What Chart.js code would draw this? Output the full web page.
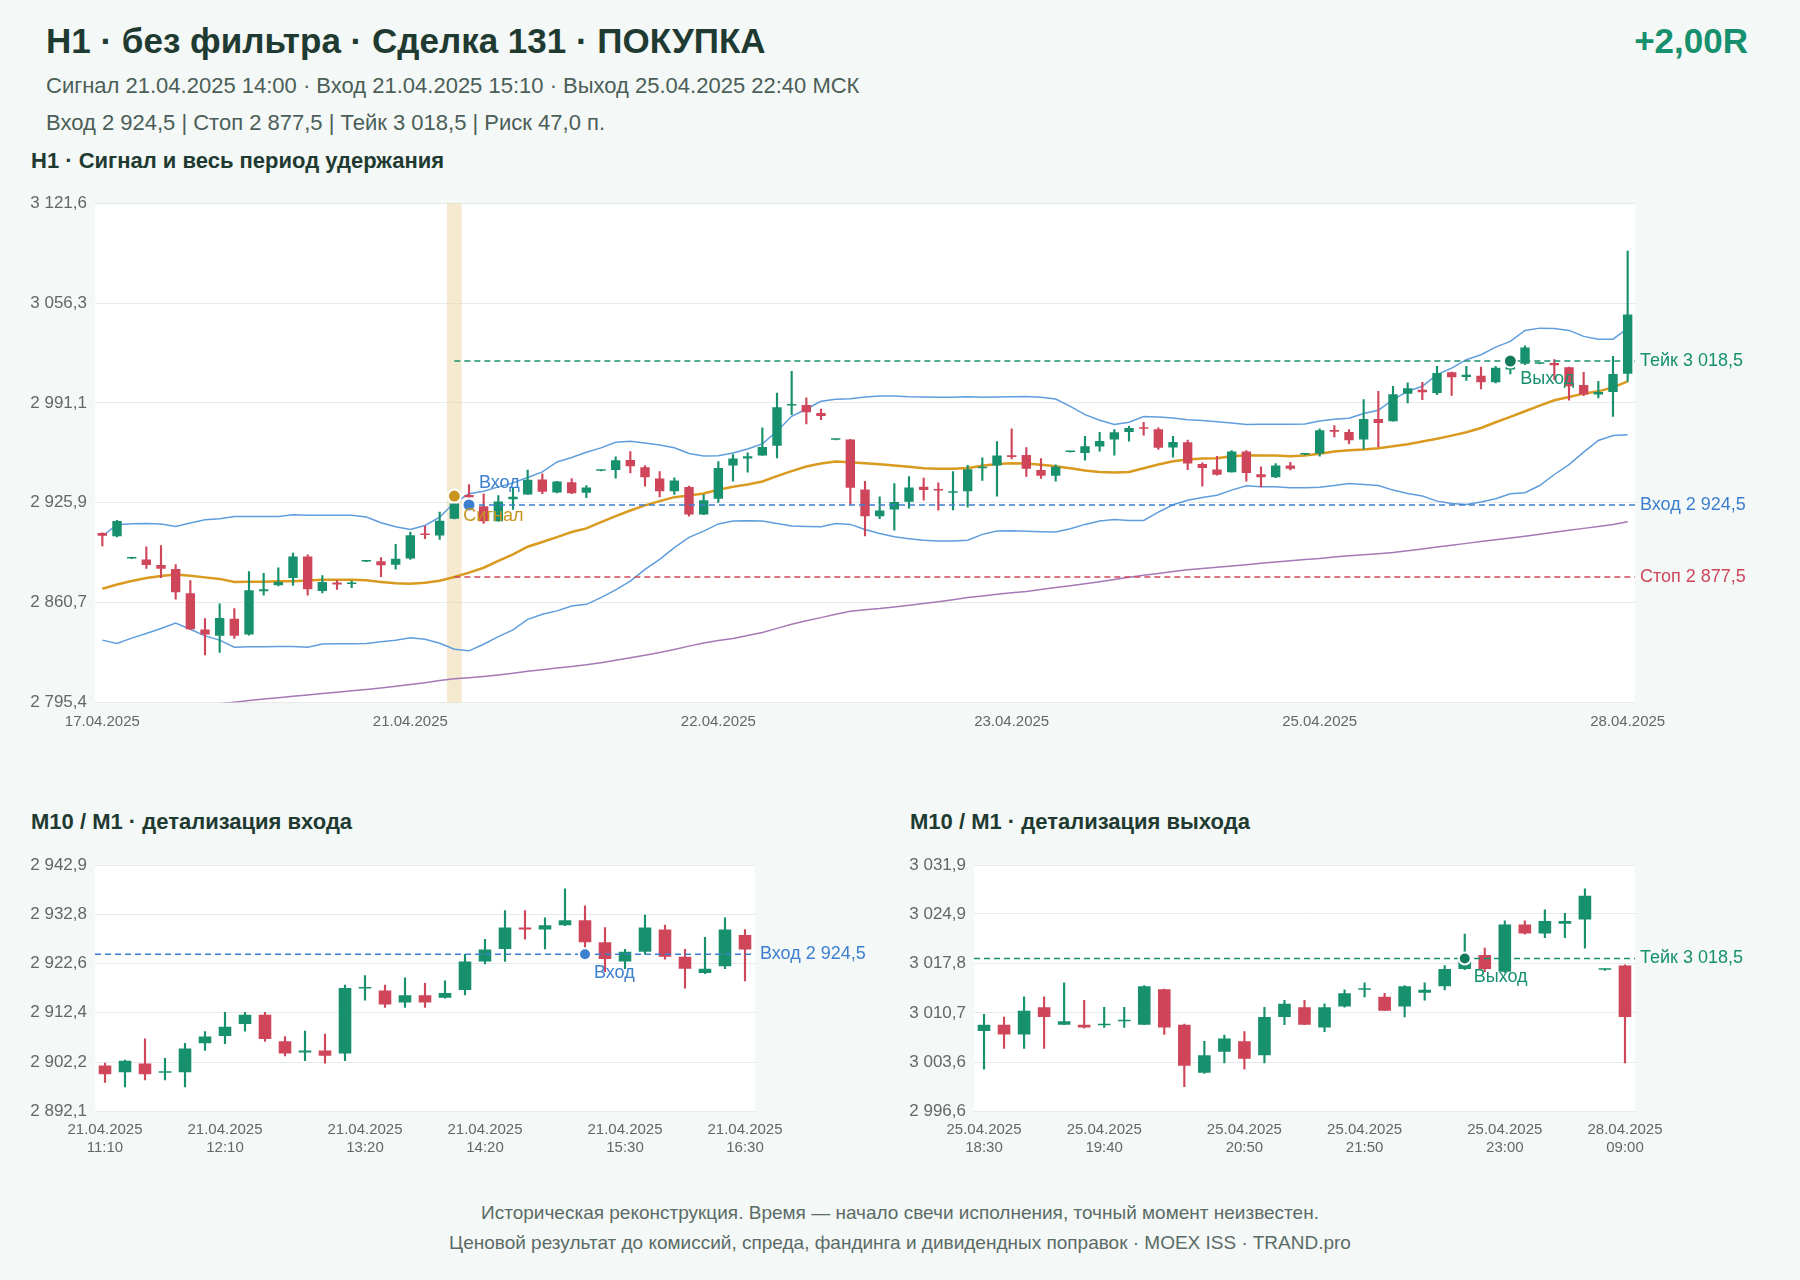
<!DOCTYPE html>
<html><head><meta charset="utf-8">
<script src="https://cdn.jsdelivr.net/npm/chart.js@4.4.1/dist/chart.umd.min.js"></script>
<style>
html,body{margin:0;padding:0;background:#f4f8f7;}
body{width:1800px;height:1280px;position:relative;overflow:hidden;font-family:"Liberation Sans",Arial,sans-serif;}
.t{position:absolute;white-space:nowrap;line-height:1;}
#title{left:46px;top:23px;font-size:35px;font-weight:bold;color:#1f3b31;}
#result{right:52px;top:23px;font-size:35px;font-weight:bold;color:#17906e;}
.sub{left:46px;font-size:22px;color:#4b5e57;}
.sec{font-size:22px;font-weight:bold;color:#1f3b31;}
.foot{left:0;width:1800px;text-align:center;font-size:19px;color:#5b6b66;}
canvas{position:absolute;}
</style></head>
<body>
<div class="t" id="title">H1 · без фильтра · Сделка 131 · ПОКУПКА</div>
<div class="t" id="result">+2,00R</div>
<div class="t sub" style="top:75px">Сигнал 21.04.2025 14:00 · Вход 21.04.2025 15:10 · Выход 25.04.2025 22:40 МСК</div>
<div class="t sub" style="top:112px">Вход 2 924,5 | Стоп 2 877,5 | Тейк 3 018,5 | Риск 47,0 п.</div>
<div class="t sec" style="left:31px;top:150px">H1 · Сигнал и весь период удержания</div>
<div class="t sec" style="left:31px;top:811px">M10 / M1 · детализация входа</div>
<div class="t sec" style="left:910px;top:811px">M10 / M1 · детализация выхода</div>
<div class="t foot" style="top:1203px">Историческая реконструкция. Время — начало свечи исполнения, точный момент неизвестен.</div>
<div class="t foot" style="top:1233px">Ценовой результат до комиссий, спреда, фандинга и дивидендных поправок · MOEX ISS · TRAND.pro</div>

<canvas id="c1" width="1740" height="550" style="left:20px;top:185px"></canvas>
<canvas id="c2" width="860" height="311" style="left:20px;top:847px"></canvas>
<canvas id="c3" width="861" height="311" style="left:899px;top:847px"></canvas>

<script>
// ---------- H1 data ----------
const h1Open  = [2906.1,2904.0,2889.5,2888.8,2885.3,2882.7,2866.8,2843.1,2839.0,2850.1,2839.9,2868.1,2872.0,2876.8,2890.9,2868.3,2873.8,2872.8,2887.6,2887.7,2885.5,2889.5,2905.9,2904.6,2915.5,2931.0,2923.7,2913.9,2928.3,2931.3,2941.1,2932.6,2939.4,2932.4,2946.9,2947.4,2953.9,2949.1,2941.8,2933.5,2936.3,2918.3,2928.6,2950.3,2954.8,2956.8,2963.1,2989.4,2989.8,2984.6,2967.1,2967.2,2934.6,2917.2,2921.6,2926.6,2936.4,2934.7,2932.4,2933.5,2948.5,2950.3,2957.0,2957.2,2947.4,2943.5,2959.1,2958.5,2962.6,2967.2,2972.2,2975.2,2973.9,2962.0,2965.5,2951.3,2947.6,2945.9,2959.4,2944.6,2942.6,2950.2,2957.5,2958.1,2973.4,2972.2,2967.2,2980.7,2979.2,2997.2,2999.8,2997.6,3011.1,3008.1,3008.9,3004.6,3013.0,3016.8,3016.7,3017.2,3014.4,3002.9,2996.6,2998.3,3010.2];
const h1High  = [2906.3,2914.4,2889.8,2897.2,2897.9,2885.5,2875.1,2850.3,2859.9,2856.8,2880.9,2879.8,2883.5,2893.1,2892.0,2878.3,2875.3,2874.8,2887.9,2890.1,2898.8,2906.8,2910.7,2919.8,2926.8,2937.8,2931.8,2930.7,2935.7,2947.2,2944.8,2940.0,2941.8,2937.2,2947.2,2955.9,2959.4,2950.2,2946.3,2942.2,2936.8,2931.3,2952.9,2957.4,2958.5,2974.8,2997.6,3011.8,2994.4,2987.2,2967.3,2967.3,2940.0,2929.8,2938.5,2943.1,2942.0,2939.0,2946.3,2950.3,2955.3,2965.9,2974.2,2962.0,2954.8,2950.7,2959.3,2969.4,2972.0,2973.7,2975.9,2978.5,2974.8,2969.4,2966.8,2952.0,2956.3,2960.0,2960.0,2949.4,2951.6,2952.4,2957.7,2974.2,2976.4,2973.7,2993.3,2998.7,3002.0,3004.2,3004.6,3015.0,3011.3,3015.0,3014.6,3015.0,3022.0,3028.5,3016.9,3019.4,3014.6,3011.1,3005.2,3021.5,3090.4];
const h1Low   = [2897.7,2903.7,2889.4,2883.1,2877.0,2862.9,2843.0,2826.6,2828.1,2837.3,2839.5,2865.5,2871.6,2872.0,2865.5,2867.0,2869.4,2870.5,2887.5,2877.7,2882.5,2889.0,2902.4,2902.0,2915.3,2923.5,2912.4,2913.9,2921.6,2931.3,2931.8,2932.4,2931.8,2929.2,2946.8,2942.0,2945.5,2936.8,2929.8,2931.3,2917.2,2918.1,2926.1,2940.0,2945.9,2956.8,2955.3,2983.5,2977.4,2980.2,2967.0,2924.8,2904.2,2915.5,2908.1,2922.4,2927.7,2921.1,2921.3,2923.1,2940.5,2930.3,2954.6,2943.1,2941.8,2940.0,2959.0,2953.7,2959.6,2957.0,2966.1,2970.0,2960.7,2955.7,2947.6,2936.8,2944.0,2945.9,2940.0,2936.3,2942.4,2947.4,2957.4,2956.3,2969.0,2964.6,2961.1,2962.4,2979.2,2991.1,2993.3,2996.6,2996.1,3005.9,3000.3,3004.2,3010.1,3016.1,3016.6,3006.3,2992.9,2995.9,2994.4,2982.4,3005.2];
const h1Close = [2904.4,2914.0,2889.7,2885.3,2882.9,2867.5,2843.3,2839.9,2850.7,2839.0,2868.8,2869.4,2874.2,2890.9,2869.4,2874.2,2872.5,2873.0,2887.8,2885.1,2889.4,2904.7,2904.8,2914.2,2925.5,2929.5,2913.9,2926.8,2929.8,2940.9,2933.1,2939.8,2932.2,2935.9,2947.1,2953.7,2949.8,2942.6,2933.5,2940.5,2918.3,2927.6,2948.7,2954.8,2956.3,2962.4,2988.3,2989.8,2985.0,2982.6,2967.2,2935.7,2917.2,2920.9,2926.4,2935.9,2934.2,2933.9,2932.9,2947.9,2949.4,2956.8,2955.9,2948.2,2943.5,2949.4,2959.2,2962.9,2966.3,2972.0,2974.8,2974.2,2961.8,2965.7,2951.6,2948.7,2944.2,2959.4,2945.3,2942.6,2950.2,2948.1,2957.6,2973.3,2972.3,2966.8,2980.7,2978.1,2996.8,3000.7,2998.1,3010.7,3007.9,3009.6,3004.6,3014.2,3017.0,3027.4,3016.8,3015.7,3002.0,2996.6,2998.3,3010.0,3048.9];
const h1BandUpper = [2904.2,2911.6,2912.2,2912.4,2912.0,2910.5,2912.7,2914.8,2915.5,2917.0,2917.0,2917.0,2917.0,2918.1,2917.7,2917.7,2917.7,2917.7,2916.6,2912.9,2910.3,2908.5,2911.1,2916.6,2925.9,2931.8,2933.5,2936.3,2938.9,2942.4,2946.1,2952.6,2955.5,2958.9,2961.8,2965.5,2966.1,2965.0,2963.7,2961.8,2958.1,2956.5,2956.6,2958.5,2961.1,2964.4,2972.6,2982.4,2987.2,2992.2,2993.5,2993.9,2995.0,2995.7,2995.7,2995.2,2995.0,2994.8,2994.8,2995.2,2994.8,2995.0,2995.2,2995.3,2994.8,2993.7,2988.9,2983.5,2979.8,2977.0,2978.5,2982.2,2982.0,2981.3,2980.2,2979.6,2978.9,2978.1,2977.0,2977.2,2977.2,2977.2,2977.4,2979.3,2980.5,2981.1,2984.2,2986.3,2993.3,2998.7,3002.0,3009.6,3013.9,3019.4,3022.6,3027.6,3031.3,3038.5,3040.0,3039.8,3038.5,3034.6,3032.8,3032.8,3039.8];
const h1BandMid = [2869.8,2872.5,2874.8,2876.8,2878.1,2879.0,2878.3,2877.2,2876.2,2874.2,2874.4,2874.4,2874.6,2874.6,2875.1,2875.7,2875.7,2875.7,2875.3,2874.2,2873.3,2873.1,2873.7,2875.0,2877.4,2880.3,2883.5,2887.9,2892.2,2897.2,2900.3,2903.5,2906.8,2909.2,2913.3,2917.2,2920.9,2924.2,2927.0,2929.6,2930.7,2932.0,2934.4,2936.4,2937.9,2939.8,2943.3,2946.6,2949.6,2951.6,2952.9,2952.4,2951.8,2951.1,2950.3,2949.4,2948.5,2948.1,2948.1,2948.7,2950.1,2951.3,2951.8,2951.5,2950.7,2949.8,2948.5,2947.0,2946.1,2945.7,2946.1,2948.5,2950.9,2953.1,2954.2,2954.8,2955.0,2956.3,2957.0,2956.8,2956.8,2956.3,2956.8,2958.0,2959.4,2960.3,2960.7,2961.6,2962.9,2964.2,2965.9,2967.7,2969.8,2972.0,2974.8,2978.5,2982.0,2985.7,2989.4,2992.9,2995.0,2997.2,2998.7,3001.3,3005.2];
const h1BandLower = [2836.2,2834.0,2837.5,2840.5,2843.8,2847.3,2843.3,2839.0,2836.2,2831.6,2831.8,2831.8,2832.0,2832.0,2831.6,2833.6,2833.8,2833.8,2834.0,2835.1,2836.2,2837.7,2836.8,2834.2,2830.3,2829.2,2833.5,2838.5,2842.9,2849.8,2853.1,2855.3,2858.5,2859.6,2864.0,2869.0,2874.8,2882.4,2889.0,2896.6,2903.3,2907.4,2912.1,2914.0,2914.2,2914.0,2912.4,2910.7,2910.5,2910.3,2912.4,2911.8,2908.5,2905.9,2903.8,2902.5,2901.4,2900.9,2900.9,2901.4,2905.3,2907.5,2907.7,2907.4,2907.0,2906.8,2909.0,2911.8,2914.0,2915.0,2914.4,2914.4,2919.8,2924.6,2927.6,2929.4,2930.9,2934.2,2937.0,2936.4,2936.4,2935.7,2935.7,2936.0,2937.2,2938.5,2937.9,2937.2,2934.2,2932.0,2930.3,2927.0,2925.5,2924.8,2926.4,2928.5,2931.8,2932.5,2937.2,2944.4,2950.9,2959.0,2966.6,2969.8,2970.3];
const h1SlowMA = [2786.5,2787.5,2788.5,2789.5,2790.6,2791.6,2792.6,2793.6,2794.7,2795.7,2796.7,2797.7,2798.6,2799.5,2800.4,2801.3,2802.2,2803.1,2804.0,2805.0,2806.1,2807.2,2808.4,2809.8,2811.0,2811.7,2812.5,2813.5,2814.6,2815.8,2816.9,2818.0,2819.0,2820.2,2821.5,2823.0,2824.7,2826.4,2828.1,2830.1,2832.3,2834.3,2836.0,2837.3,2839.2,2841.2,2843.9,2846.6,2848.8,2850.9,2853.1,2855.0,2856.1,2856.8,2857.9,2859.0,2860.1,2861.2,2862.6,2864.0,2865.1,2866.2,2867.2,2868.0,2869.3,2870.6,2871.8,2873.0,2874.4,2875.8,2877.3,2878.6,2879.8,2881.0,2882.2,2883.0,2883.8,2884.7,2885.5,2886.4,2887.2,2888.0,2888.8,2889.5,2890.5,2891.3,2892.0,2892.7,2893.4,2894.6,2895.8,2897.0,2898.2,2899.4,2900.6,2901.8,2902.9,2904.1,2905.3,2906.6,2907.9,2909.2,2910.5,2911.8,2913.5];
const h1TickIdx = [0, 21, 42, 62, 83, 104];
const h1TickLabels = ['17.04.2025','21.04.2025','22.04.2025','23.04.2025','25.04.2025','28.04.2025'];
const h1YTicks = [3121.6, 3056.3, 2991.1, 2925.9, 2860.7, 2795.4];

// trade levels
const entryPrice = 2924.5, stopPrice = 2877.5, takePrice = 3018.5;
const h1SignalIdx = 24, h1SignalPrice = 2930.3, h1EntryIdx = 25, h1ExitIdx = 96;

// ---------- M10 entry detail ----------
const entryDate = '21.04.2025';
const entryTimes = ['11:10','11:20','11:30','11:40','11:50','12:00','12:10','12:20','12:30','12:40','12:50','13:00','13:10','13:20','13:30','13:40','13:50','14:00','14:10','14:20','14:30','14:40','14:50','15:00','15:10','15:20','15:30','15:40','15:50','16:00','16:10','16:20','16:30'];
const enOpen  = [2901.5,2900.1,2901.9,2900.0,2900.1,2906.1,2907.6,2910.1,2912.0,2906.5,2904.2,2904.6,2904.0,2917.4,2917.0,2914.5,2916.0,2915.5,2917.1,2923.0,2925.6,2930.0,2929.6,2930.5,2931.5,2927.0,2923.0,2925.0,2929.6,2924.0,2920.6,2922.0,2928.5];
const enHigh  = [2902.0,2902.6,2907.0,2903.0,2906.1,2908.5,2912.5,2912.5,2912.5,2907.5,2908.6,2908.0,2918.1,2920.1,2918.1,2919.6,2918.5,2919.0,2924.5,2927.6,2933.5,2933.5,2932.0,2938.0,2934.5,2930.0,2925.5,2932.6,2930.5,2925.5,2928.0,2932.0,2929.6];
const enLow   = [2898.0,2897.1,2898.5,2898.5,2897.1,2904.6,2906.0,2908.6,2906.5,2903.5,2902.5,2902.0,2902.5,2915.0,2913.5,2913.5,2913.5,2915.4,2916.1,2922.5,2923.0,2927.6,2925.6,2930.4,2924.3,2920.9,2921.5,2924.5,2923.5,2917.5,2920.5,2921.5,2919.0];
const enClose = [2899.7,2902.5,2899.7,2900.1,2905.0,2907.5,2909.5,2912.0,2907.0,2904.0,2904.6,2903.5,2917.5,2917.5,2914.1,2916.0,2914.5,2916.5,2923.0,2925.5,2930.0,2929.6,2930.5,2931.5,2927.0,2923.5,2925.0,2930.0,2924.0,2921.5,2921.5,2929.6,2925.5];
const enTickIdx = [0, 6, 13, 19, 26, 32];
const enYTicks = [2942.9, 2932.8, 2922.6, 2912.4, 2902.2, 2892.1];
const enEntryIdx = 24;

// ---------- M10 exit detail ----------
const exitDates = ['25.04.2025','25.04.2025','25.04.2025','25.04.2025','25.04.2025','25.04.2025','25.04.2025','25.04.2025','25.04.2025','25.04.2025','25.04.2025','25.04.2025','25.04.2025','25.04.2025','25.04.2025','25.04.2025','25.04.2025','25.04.2025','25.04.2025','25.04.2025','25.04.2025','25.04.2025','25.04.2025','25.04.2025','25.04.2025','25.04.2025','25.04.2025','25.04.2025','25.04.2025','25.04.2025','25.04.2025','28.04.2025','28.04.2025'];
const exitTimes = ['18:30','18:40','19:00','19:10','19:20','19:30','19:40','19:50','20:00','20:10','20:20','20:30','20:40','20:50','21:00','21:10','21:20','21:30','21:40','21:50','22:00','22:10','22:20','22:30','22:40','22:50','23:00','23:10','23:20','23:30','23:40','08:50','09:00'];
const exOpen  = [3008.1,3009.0,3007.6,3011.5,3009.0,3009.0,3008.9,3009.5,3009.0,3014.1,3009.0,3002.1,3005.1,3006.6,3004.6,3010.1,3011.5,3008.6,3011.6,3014.0,3013.0,3011.6,3013.6,3014.5,3017.0,3019.0,3016.6,3023.4,3022.1,3023.5,3024.1,3016.9,3017.5];
const exHigh  = [3010.5,3010.1,3013.0,3013.0,3015.0,3012.5,3011.5,3011.5,3014.6,3014.1,3009.1,3006.6,3007.5,3008.0,3011.5,3012.5,3012.5,3012.0,3014.0,3015.0,3013.5,3014.6,3015.0,3017.5,3022.0,3020.0,3023.9,3023.9,3025.5,3025.0,3028.5,3017.0,3017.6];
const exLow   = [3002.6,3005.6,3005.6,3005.6,3009.0,3008.5,3008.6,3008.6,3009.0,3007.6,3000.1,3002.0,3003.5,3002.6,3003.5,3009.0,3009.0,3008.0,3011.5,3013.0,3011.0,3010.1,3012.5,3014.0,3016.9,3016.6,3016.5,3022.0,3021.5,3021.5,3020.0,3016.8,3003.5];
const exClose = [3009.0,3007.6,3011.0,3010.1,3009.5,3008.6,3009.0,3009.6,3014.5,3008.6,3003.1,3004.6,3007.0,3004.1,3010.1,3012.0,3009.0,3011.5,3013.5,3014.1,3011.0,3014.5,3014.0,3017.0,3019.0,3017.0,3023.4,3022.1,3023.9,3023.9,3027.5,3017.0,3010.1];
const exTickIdx = [0, 6, 13, 19, 26, 32];
const exYTicks = [3031.9, 3024.9, 3017.8, 3010.7, 3003.6, 2996.6];
const exExitIdx = 24;

// ---------- styling ----------
const GREEN = '#17906e', RED = '#cf465b', BLUE = '#3c7fcf', GOLD = '#c9951f', DKGREEN = '#137a5b';
const FONT = "'Liberation Sans', Arial, sans-serif";
Chart.defaults.font.family = FONT;

function fmt(v){
  const s = v.toFixed(1).split('.');
  return s[0].replace(/\B(?=(\d{3})+(?!\d))/g, ' ') + ',' + s[1];
}
function candleSets(O, H, L, C, pct){
  const col = C.map((c, i) => c >= O[i] ? GREEN : RED);
  return [
    {type:'bar', data:O.map((o,i)=>[Math.min(o,C[i]), Math.max(o,C[i])]), backgroundColor:col, borderWidth:0,
     barPercentage:pct, categoryPercentage:1, grouped:false, minBarLength:1.5, order:2},
    {type:'bar', data:L.map((l,i)=>[l, H[i]]), backgroundColor:col, borderWidth:0,
     barThickness:1.5, grouped:false, order:3}
  ];
}
function lineSet(data, color, w){
  return {type:'line', data, borderColor:color, borderWidth:w, pointRadius:0, tension:0, fill:false, order:5};
}

const overlay = {
  id:'overlay',
  beforeDraw(chart){
    const {ctx, chartArea:a} = chart;
    ctx.save(); ctx.fillStyle = '#ffffff';
    ctx.fillRect(a.left, a.top, a.right - a.left, a.bottom - a.top);
    ctx.restore();
  },
  beforeDatasetsDraw(chart, args, opts){
    if (!opts.band) return;
    const {ctx, chartArea:a, scales:{x}} = chart;
    const w = x.getPixelForValue(1) - x.getPixelForValue(0);
    const cx = x.getPixelForValue(opts.band.idx);
    ctx.save(); ctx.fillStyle = opts.band.color;
    ctx.fillRect(cx - w/2, a.top, w, a.bottom - a.top);
    ctx.restore();
  },
  afterDatasetsDraw(chart, args, opts){
    const {ctx, chartArea:a, scales:{x, y}} = chart;
    ctx.save();
    (opts.levels || []).forEach(l => {
      const py = y.getPixelForValue(l.value);
      const x0 = l.from == null ? a.left : x.getPixelForValue(l.from);
      ctx.strokeStyle = l.color; ctx.lineWidth = 1.5; ctx.setLineDash([6, 4]);
      ctx.beginPath(); ctx.moveTo(x0, py); ctx.lineTo(a.right, py); ctx.stroke();
      ctx.setLineDash([]);
      ctx.fillStyle = l.color; ctx.font = '18px ' + FONT;
      ctx.textAlign = 'left'; ctx.textBaseline = 'middle';
      ctx.fillText(l.label + ' ' + fmt(l.value), a.right + 5, py);
    });
    (opts.markers || []).forEach(m => {
      const px = x.getPixelForValue(m.idx), py = y.getPixelForValue(m.value);
      ctx.beginPath(); ctx.arc(px, py, m.r || 6.5, 0, Math.PI*2);
      ctx.fillStyle = m.color; ctx.fill();
      ctx.lineWidth = 2; ctx.strokeStyle = '#ffffff'; ctx.stroke();
    });
    (opts.markers || []).forEach(m => {
      if (!m.label) return;
      const px = x.getPixelForValue(m.idx), py = y.getPixelForValue(m.value);
      ctx.fillStyle = m.textColor || m.color; ctx.font = '18px ' + FONT;
      ctx.textAlign = 'left'; ctx.textBaseline = 'middle';
      ctx.fillText(m.label, px + m.dx, py + m.dy);
    });
    ctx.restore();
  }
};

function baseOptions(yMin, yMax, yTicks, xCallback, geo){
  return {
    responsive:false, animation:false,
    layout:{autoPadding:false, padding:{left:0, right:125, top:0, bottom:0}},
    plugins:{legend:{display:false}, tooltip:{enabled:false}},
    scales:{
      x:{type:'category', offset:true, grid:{display:false, drawTicks:false}, border:{display:false},
         ticks:{autoSkip:false, maxRotation:0, minRotation:0, padding:10, color:'#666666', font:{size:15}, callback:xCallback},
         afterFit:s=>{ s.height = geo.xh; }},
      y:{type:'linear', min:yMin, max:yMax,
         afterBuildTicks:s=>{ s.ticks = yTicks.map(v=>({value:v})); },
         grid:{color:'#e6eaea', lineWidth:1, drawTicks:false}, border:{display:false},
         ticks:{padding:8, color:'#666666', font:{size:17}, callback:v=>fmt(v)},
         afterFit:s=>{ s.width = 75; }}
    }
  };
}

// keep the plot bottom at the reference position (canvas coordinates)
function placeBottom(chart, geo, bottom){
  for (let k = 0; k < 3; k++){
    const db = bottom - chart.chartArea.bottom;
    if (Math.abs(db) < 0.2) break;
    geo.xh -= db;
    chart.update('none');
  }
}

// ---------- main H1 chart ----------
const g1 = {xh:32};
const o1 = baseOptions(2795.4, 3121.6, h1YTicks, (v,i)=>{ const k = h1TickIdx.indexOf(i); return k >= 0 ? h1TickLabels[k] : ''; }, g1);
o1.plugins.overlay = {
  band:{idx:h1SignalIdx, color:'rgba(236,214,160,0.5)'},
  levels:[
    {value:takePrice, from:h1SignalIdx, color:GREEN, label:'Тейк'},
    {value:entryPrice, from:h1EntryIdx, color:BLUE, label:'Вход'},
    {value:stopPrice, from:h1SignalIdx, color:RED, label:'Стоп'}
  ],
  markers:[
    {idx:h1SignalIdx, value:h1SignalPrice, color:GOLD, label:'Сигнал', dx:9, dy:20},
    {idx:h1EntryIdx, value:entryPrice, color:BLUE, label:'Вход', dx:10, dy:-22},
    {idx:h1ExitIdx, value:takePrice, color:DKGREEN, textColor:GREEN, label:'Выход', dx:10, dy:18}
  ]
};
const ch1 = new Chart(document.getElementById('c1'), {
  type:'bar',
  data:{labels:h1Close.map((_, i)=>String(i)), datasets:[
    ...candleSets(h1Open, h1High, h1Low, h1Close, 0.64),
    lineSet(h1BandUpper, '#5f9ddc', 1.5),
    lineSet(h1BandLower, '#5f9ddc', 1.5),
    lineSet(h1SlowMA, '#a679b6', 1.5),
    lineSet(h1BandMid, '#d99a1f', 2.5)
  ]},
  options:o1, plugins:[overlay]
});
placeBottom(ch1, g1, 517.6);

// ---------- entry detail ----------
const g2 = {xh:47};
const o2 = baseOptions(2892.1, 2942.9, enYTicks, (v,i)=> enTickIdx.includes(i) ? [entryDate, entryTimes[i]] : '', g2);
o2.plugins.overlay = {
  levels:[{value:entryPrice, from:null, color:BLUE, label:'Вход'}],
  markers:[{idx:enEntryIdx, value:entryPrice, color:BLUE, label:'Вход', dx:9, dy:19, r:6}]
};
const ch2 = new Chart(document.getElementById('c2'), {
  type:'bar',
  data:{labels:entryTimes, datasets:[...candleSets(enOpen, enHigh, enLow, enClose, 0.63)]},
  options:o2, plugins:[overlay]
});
placeBottom(ch2, g2, 264);

// ---------- exit detail ----------
const g3 = {xh:47};
const o3 = baseOptions(2996.6, 3031.9, exYTicks, (v,i)=> exTickIdx.includes(i) ? [exitDates[i], exitTimes[i]] : '', g3);
o3.plugins.overlay = {
  levels:[{value:takePrice, from:null, color:GREEN, label:'Тейк'}],
  markers:[{idx:exExitIdx, value:takePrice, color:DKGREEN, textColor:GREEN, label:'Выход', dx:9, dy:19, r:6}]
};
const ch3 = new Chart(document.getElementById('c3'), {
  type:'bar',
  data:{labels:exitTimes, datasets:[...candleSets(exOpen, exHigh, exLow, exClose, 0.63)]},
  options:o3, plugins:[overlay]
});
placeBottom(ch3, g3, 264);
</script>
</body></html>
